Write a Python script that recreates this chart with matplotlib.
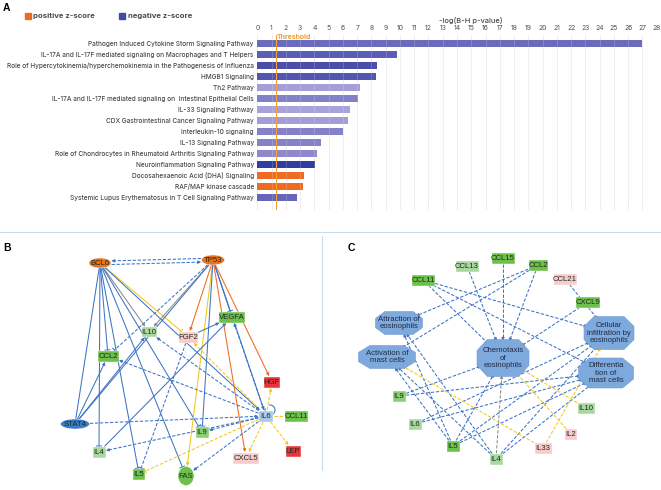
import numpy as np
import matplotlib
matplotlib.use('Agg')
import matplotlib.pyplot as plt
from matplotlib.patches import Ellipse, Rectangle, Polygon, FancyArrowPatch, Arc

# ---- panel A data ----
pathways = [
    'Pathogen Induced Cytokine Storm Signaling Pathway',
    'IL-17A and IL-17F mediated signaling on Macrophages and T Helpers',
    'Role of Hypercytokinemia/hyperchemokinemia in the Pathogenesis of Influenza',
    'HMGB1 Signaling',
    'Th2 Pathway',
    'IL-17A and IL-17F mediated signaling on  Intestinal Epithelial Cells',
    'IL-33 Signaling Pathway',
    'CDX Gastrointestinal Cancer Signaling Pathway',
    'Interleukin-10 signaling',
    'IL-13 Signaling Pathway',
    'Role of Chondrocytes in Rheumatoid Arthritis Signaling Pathway',
    'Neuroinflammation Signaling Pathway',
    'Docosahexaenoic Acid (DHA) Signaling',
    'RAF/MAP kinase cascade',
    'Systemic Lupus Erythematosus in T Cell Signaling Pathway',
]
neg_log_p = [27.0, 9.82, 8.37, 8.35, 7.22, 7.08, 6.52, 6.34, 6.01, 4.45, 4.19, 4.07, 3.30, 3.23, 2.76]
bar_colors = ['#6B6BBD', '#5B5DB6', '#4A4DAA', '#5255B0', '#A39ED8', '#8280C7', '#A8A2DA',
              '#A29DD7', '#8481C8', '#8582C8', '#8D89CC', '#2F3F9F', '#EE6B22', '#EE6B22', '#6565B9']
threshold = 1.3

# ---- panel B network ----
b_nodes = ['BCL6', 'TP53', 'IL10', 'FGF2', 'VEGFA', 'CCL2', 'HGF', 'IL6', 'CCL11',
           'STAT4', 'IL9', 'IL4', 'LEP', 'CXCL5', 'IL5', 'FAS']
b_fill = ['#E8731E', '#E8731E', '#A8D8A0', '#F8CCCC', '#6DC04A', '#6DC04A', '#E8343A', '#A9C8EA',
          '#6DC04A', '#3A7CC8', '#8ACF70', '#A8D8A0', '#E8343A', '#F8CCCC', '#6DC04A', '#6DC04A']
b_edges = [
    ('BCL6', 'TP53', 'b', '--', 'arrow'), ('TP53', 'BCL6', 'b', '--', 'arrow'),
    ('BCL6', 'IL4', 'b', '-', 'bar'), ('BCL6', 'CCL2', 'b', '-', 'bar'),
    ('BCL6', 'IL10', 'g', '-', 'arrow'), ('BCL6', 'FGF2', 'y', '-', 'bar'),
    ('BCL6', 'IL5', 'b', '-', 'bar'), ('BCL6', 'FAS', 'b', '-', 'bar'),
    ('BCL6', 'IL9', 'b', '-', 'bar'), ('BCL6', 'IL6', 'b', '-', 'arrow'),
    ('TP53', 'IL10', 'g', '-', 'arrow'), ('TP53', 'FGF2', 'o', '-', 'arrow'),
    ('TP53', 'VEGFA', 'b', '-', 'bar'), ('TP53', 'HGF', 'o', '-', 'arrow'),
    ('TP53', 'CXCL5', 'o', '-', 'arrow'), ('TP53', 'FAS', 'y', '-', 'arrow'),
    ('TP53', 'IL9', 'b', '-', 'bar'), ('TP53', 'STAT4', 'b', '-', 'none'),
    ('TP53', 'IL6', 'b', '-', 'arrow'), ('TP53', 'CCL2', 'b', '--', 'bar'),
    ('BCL6', 'STAT4', 'b', '-', 'none'),
    ('STAT4', 'IL10', 'b', '-', 'arrow'), ('STAT4', 'CCL2', 'b', '-', 'arrow'),
    ('STAT4', 'IL6', 'b', '--', 'arrow'),
    ('IL6', 'IL10', 'b', '--', 'arrow'), ('IL6', 'CCL2', 'b', '--', 'arrow'),
    ('IL6', 'VEGFA', 'b', '--', 'arrow'), ('IL6', 'IL9', 'b', '--', 'arrow'),
    ('IL6', 'IL4', 'b', '--', 'arrow'), ('IL6', 'FAS', 'b', '--', 'arrow'),
    ('IL6', 'FGF2', 'y', '--', 'arrow'), ('IL6', 'HGF', 'y', '--', 'arrow'),
    ('IL6', 'CCL11', 'y', '--', 'none'), ('IL6', 'LEP', 'y', '--', 'arrow'),
    ('IL6', 'CXCL5', 'y', '--', 'arrow'), ('IL6', 'IL5', 'y', '--', 'bar'),
    ('FGF2', 'VEGFA', 'b', '-', 'arrow'), ('FGF2', 'IL5', 'b', '--', 'bar'),
    ('IL4', 'VEGFA', 'b', '-', 'arrow'),
]

# ---- panel C network ----
c_genes = ['CCL13', 'CCL15', 'CCL2', 'CCL11', 'CCL21', 'CXCL9',
           'IL9', 'IL6', 'IL5', 'IL4', 'IL33', 'IL2', 'IL10']
c_fill = ['#A8D8A0', '#6DC04A', '#6DC04A', '#6DC04A', '#F8CCCC', '#6DC04A',
          '#8ACF70', '#A8D8A0', '#6DC04A', '#A8D8A0', '#F8CCCC', '#F8CCCC', '#A8D8A0']
c_functions = ['Attraction of\neosinophils', 'Activation of\nmast cells', 'Chemotaxis\nof\neosinophils',
               'Cellular\ninfiltration by\neosinophils', 'Differentia\ntion of\nmast cells']
c_edges = [
    ('CCL13', 2, 'b'), ('CCL15', 2, 'b'), ('CCL2', 2, 'b'), ('CCL2', 0, 'b'), ('CCL2', 1, 'b'),
    ('CCL11', 2, 'b'), ('CCL11', 3, 'b'), ('CCL11', 4, 'b'), ('CCL21', 3, 'b'), ('CXCL9', 2, 'b'),
    ('IL9', 2, 'b'), ('IL9', 4, 'b'), ('IL6', 4, 'b'), ('IL6', 3, 'b'),
    ('IL5', 0, 'b'), ('IL5', 1, 'b'), ('IL5', 3, 'b'), ('IL5', 4, 'b'), ('IL5', 2, 'b'),
    ('IL4', 0, 'b'), ('IL4', 1, 'b'), ('IL4', 3, 'b'), ('IL4', 4, 'b'), ('IL4', 2, 'g'),
    ('IL33', 1, 'y'), ('IL33', 3, 'y'), ('IL2', 2, 'y'), ('IL10', 2, 'y'),
]

# ---- layout (pixel positions) ----
b_pos = {'BCL6': (100, 263, 22, 10, 'e'), 'TP53': (213, 260, 23, 10, 'e'),
         'IL10': (149, 332, 15, 10, 'r'), 'FGF2': (188, 337, 19, 11, 'r'),
         'VEGFA': (232, 317, 26, 11, 'r'), 'CCL2': (108, 356, 21, 11, 'r'),
         'HGF': (272, 382, 16, 11, 'r'), 'IL6': (266, 416, 14, 11, 'r'),
         'CCL11': (296, 416, 23, 11, 'r'), 'STAT4': (75, 424, 29, 10, 'e'),
         'IL9': (202, 432, 13, 11, 'r'), 'IL4': (99, 452, 13, 11, 'r'),
         'LEP': (293, 451, 15, 11, 'r'), 'CXCL5': (246, 458, 26, 11, 'r'),
         'IL5': (139, 474, 12, 11, 'r'), 'FAS': (186, 476, 16, 19, 'e')}
c_pos = {'CCL13': (467, 266, 23), 'CCL15': (503, 258, 23), 'CCL2': (538, 265, 19),
         'CCL11': (423, 280, 23), 'CCL21': (565, 279, 23), 'CXCL9': (588, 302, 24),
         'IL9': (399, 396, 13), 'IL6': (415, 424, 13), 'IL5': (453, 446, 13),
         'IL4': (496, 459, 13), 'IL33': (543, 448, 17), 'IL2': (571, 434, 12), 'IL10': (586, 408, 17)}
f_pos = [(399, 323, 47, 23), (387, 357, 57, 23), (503, 358, 52, 37), (609, 333, 50, 33), (606, 373, 55, 30)]

ecol = {'b': '#3C74C4', 'o': '#EE6A1C', 'y': '#F2C81A', 'g': '#8A8A8A'}

fig = plt.figure(figsize=(6.61, 4.9), dpi=100)
ov = fig.add_axes([0, 0, 1, 1])
ov.set_xlim(0, 661)
ov.set_ylim(490, 0)
ov.axis('off')

# ---- panel A bars ----
ax = fig.add_axes([257.3 / 661, 1 - 210 / 490, (656.7 - 257.3) / 661, 175 / 490])
rows = np.arange(len(pathways))
for x in range(29):
    ax.axvline(x, color='#EAEAEA', lw=0.6, zorder=0)
ax.barh(rows, neg_log_p, height=0.66, color=bar_colors, zorder=2)
for x in range(1, 28):
    ax.plot([x, x], [-0.4, 14.4], color='white', lw=0.5, alpha=0.25, zorder=3)
ax.axvline(threshold, color='#F5A033', lw=0.8, zorder=4)
ax.text(threshold + 0.05, -0.62, 'Threshold', color='#F5A033', fontsize=5,
        fontweight='bold', family='Inter', va='center', ha='left')
ax.set_xlim(0, 28)
ax.set_ylim(15.16, -0.79)
ax.xaxis.tick_top()
ax.set_xticks(range(29))
ax.set_xticklabels([str(i) for i in range(29)], fontsize=4.9, color='#505050', family='Inter')
ax.set_yticks(rows)
ax.set_yticklabels(pathways, fontsize=4.7, color='#4A4A4A', family='Inter', fontweight='medium')
ax.tick_params(axis='y', length=0, pad=2.5)
ax.tick_params(axis='x', length=0, pad=3)
for s in ax.spines.values():
    s.set_visible(False)
ov.text(471, 20, '-log(B-H p-value)', fontsize=5.4, color='#4A4A4A', family='Inter',
        fontweight='medium', ha='center', va='center')

# legend
ov.add_patch(Rectangle((25, 13), 6, 6, color='#EE6B22'))
ov.text(33, 16, 'positive z-score', fontsize=5.6, fontweight='bold', color='#4A4A4A',
        family='Inter', va='center')
ov.add_patch(Rectangle((119, 13), 6, 6, color='#3F4BA6'))
ov.text(128, 16, 'negative z-score', fontsize=5.6, fontweight='bold', color='#4A4A4A',
        family='Inter', va='center')

for lab, (x, y) in zip('ABC', [(3, 8), (3, 248), (348, 248)]):
    ov.text(x, y, lab, fontsize=7.5, fontweight='bold', family='Liberation Sans', va='center')

# separators
ov.plot([0, 661], [232, 232], color='#C5DCEE', lw=0.8)
ov.plot([322, 322], [236, 470], color='#C5DCEE', lw=0.8)


def boundary(node, d):
    x, y, w, h, kind = node
    a, b = w / 2, h / 2
    if kind == 'e':
        t = 1 / np.sqrt((d[0] / a) ** 2 + (d[1] / b) ** 2)
    else:
        t = min(a / abs(d[0]) if d[0] else 1e9, b / abs(d[1]) if d[1] else 1e9)
    return np.array([x, y]) + d * (t + 0.5)


def edge(n1, n2, color, ls, head, off=0.0):
    p1 = np.array(n1[:2], float)
    p2 = np.array(n2[:2], float)
    d = (p2 - p1) / np.linalg.norm(p2 - p1)
    nrm = np.array([-d[1], d[0]])
    s = boundary(n1, d) + nrm * off
    e = boundary(n2, -d) + nrm * off
    dash = (0, (3.2, 1.6)) if ls == '--' else '-'
    end_line = e - d * 3 if head == 'arrow' else e
    ov.plot([s[0], end_line[0]], [s[1], end_line[1]], color=color, lw=0.75, linestyle=dash, zorder=2)
    if head == 'arrow':
        ov.add_patch(FancyArrowPatch(e - d * 4, e, arrowstyle='-|>', mutation_scale=4.5,
                                     color=color, lw=0.6, shrinkA=0, shrinkB=0, zorder=3))
    elif head == 'bar':
        ov.plot([e[0] - nrm[0] * 2.5, e[0] + nrm[0] * 2.5], [e[1] - nrm[1] * 2.5, e[1] + nrm[1] * 2.5],
                color=color, lw=0.75, zorder=3)


# ---- panel B ----
for src, dst, c, ls, head in b_edges:
    off = 0
    if {src, dst} == {'BCL6', 'TP53'}:
        off = 1.8
    edge(b_pos[src], b_pos[dst], ecol[c], ls, head, off)
ov.add_patch(Arc((270, 410), 10, 10, theta1=-100, theta2=200, color=ecol['b'], lw=0.75, zorder=2))

for name, fc in zip(b_nodes, b_fill):
    x, y, w, h, kind = b_pos[name]
    if kind == 'e':
        ov.add_patch(Ellipse((x, y), w, h, facecolor=fc, edgecolor='white', lw=0.3, zorder=4))
    else:
        ov.add_patch(Rectangle((x - w / 2, y - h / 2), w, h, facecolor=fc, edgecolor='white', lw=0.3, zorder=4))
    ov.text(x, y, name, fontsize=5.6, family='Liberation Sans', color='#1E2A20', ha='center', va='center', zorder=5)

# ---- panel C ----
def octagon(x, y, w, h):
    cx, cy = 0.2 * w, 0.3 * h
    pts = [(x - w / 2 + cx, y - h / 2), (x + w / 2 - cx, y - h / 2), (x + w / 2, y - h / 2 + cy),
           (x + w / 2, y + h / 2 - cy), (x + w / 2 - cx, y + h / 2), (x - w / 2 + cx, y + h / 2),
           (x - w / 2, y + h / 2 - cy), (x - w / 2, y - h / 2 + cy)]
    return Polygon(pts, closed=True, facecolor='#7EA9DD', edgecolor='#6E9BD3', lw=0.4, zorder=4)


for g, fi, c in c_edges:
    gx, gy, gw = c_pos[g]
    fx, fy, fw, fh = f_pos[fi]
    edge((gx, gy, gw, 10, 'r'), (fx, fy, fw * 0.92, fh * 0.9, 'e'), ecol[c], '--', 'arrow')

for (x, y, w, h), lab in zip(f_pos, c_functions):
    ov.add_patch(octagon(x, y, w, h))
    ov.text(x, y, lab, fontsize=5.6, family='Liberation Sans', color='#1E2A44', ha='center',
            va='center', linespacing=1.1, zorder=5)

for name, fc in zip(c_genes, c_fill):
    x, y, w = c_pos[name]
    ov.add_patch(Rectangle((x - w / 2, y - 5.5), w, 11, facecolor=fc, edgecolor='white', lw=0.3, zorder=4))
    ov.text(x, y, name, fontsize=5.6, family='Liberation Sans', color='#1E2A20', ha='center', va='center', zorder=5)

fig.savefig('out.png', dpi=100)
